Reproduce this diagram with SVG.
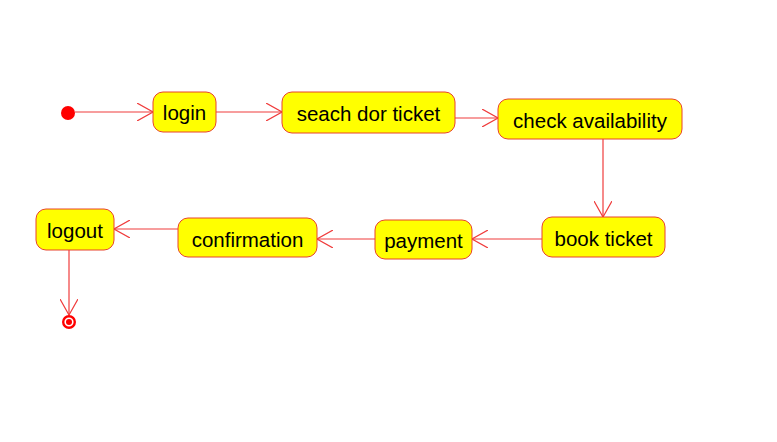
<svg xmlns="http://www.w3.org/2000/svg" width="777" height="442" viewBox="0 0 777 442">
<style>
.st rect{fill:#FFFF00;stroke:#E8432C;stroke-width:1}
.st text{font-family:"Liberation Sans",Arial,sans-serif;font-size:20.5px;fill:#000;text-anchor:middle;dominant-baseline:central}
.cn line{stroke:#F03C3C;stroke-width:1.2;fill:none}
</style>
<defs>
<marker id="ah" viewBox="0 0 16 18" refX="16" refY="9" markerWidth="16" markerHeight="18" markerUnits="userSpaceOnUse" orient="auto">
<path d="M0,0 L16,9 L0,18" fill="none" stroke="#F03C3C" stroke-width="1.2"/>
</marker>
</defs>
<rect width="777" height="442" fill="#fff"/>
<g id="start"><circle cx="68" cy="113" r="7" fill="#F00"/></g>
<g id="login" class="st"><rect x="153" y="92" width="63" height="40" rx="10"/><text x="184.5" y="112.5">login</text></g>
<g id="search" class="st"><rect x="282" y="92" width="173" height="41" rx="10"/><text x="368.5" y="113">seach dor ticket</text></g>
<g id="check" class="st"><rect x="498" y="99" width="184" height="40" rx="10"/><text x="590" y="120">check availability</text></g>
<g id="book" class="st"><rect x="542" y="217" width="123" height="40" rx="10"/><text x="603.5" y="238">book ticket</text></g>
<g id="payment" class="st"><rect x="375" y="220" width="97" height="39" rx="10"/><text x="423.5" y="240.5">payment</text></g>
<g id="confirmation" class="st"><rect x="178" y="218" width="139" height="39" rx="10"/><text x="247.5" y="239">confirmation</text></g>
<g id="logout" class="st"><rect x="36" y="209" width="78" height="41" rx="10"/><text x="75" y="230.5">logout</text></g>
<g id="end"><circle cx="69" cy="322" r="5.8" fill="none" stroke="#F00" stroke-width="2.4"/><circle cx="69" cy="322" r="3" fill="#F00"/></g>
<g class="cn" id="connectors">
<line x1="75" y1="112" x2="153" y2="112" marker-end="url(#ah)"/>
<line x1="216" y1="112" x2="282" y2="112" marker-end="url(#ah)"/>
<line x1="455" y1="118" x2="498" y2="118" marker-end="url(#ah)"/>
<line x1="603" y1="139" x2="603" y2="217" marker-end="url(#ah)"/>
<line x1="542" y1="239" x2="472" y2="239" marker-end="url(#ah)"/>
<line x1="375" y1="239" x2="317" y2="239" marker-end="url(#ah)"/>
<line x1="178" y1="229" x2="114" y2="229" marker-end="url(#ah)"/>
<line x1="69" y1="250" x2="69" y2="315" marker-end="url(#ah)"/>
</g>
</svg>
